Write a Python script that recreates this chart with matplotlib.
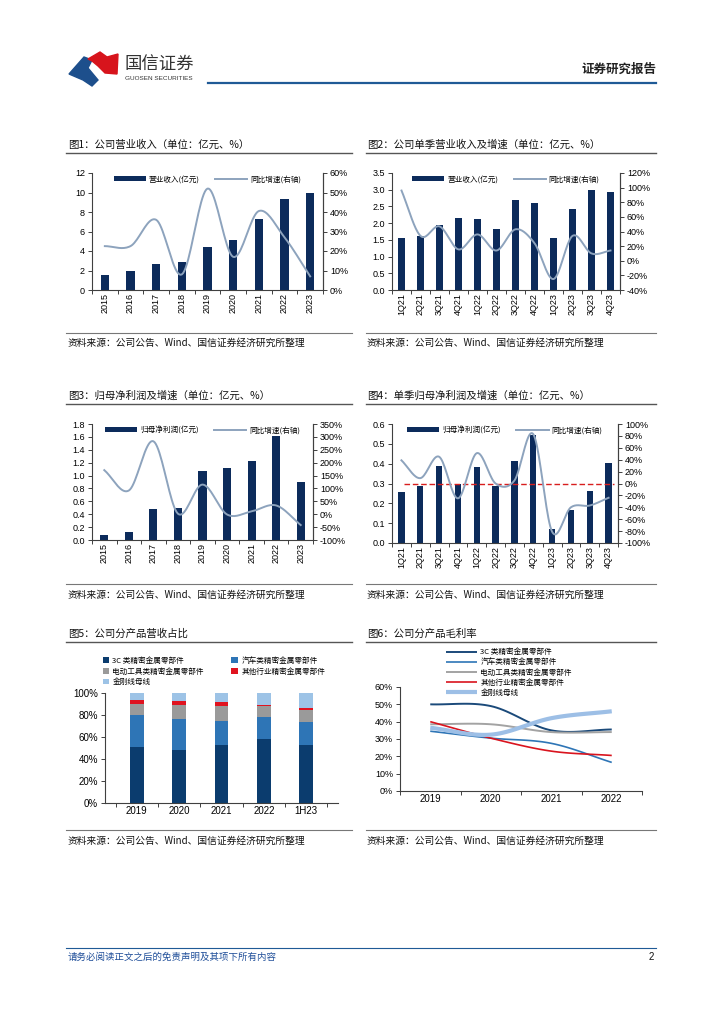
import numpy as np
import matplotlib
matplotlib.use("Agg")
import matplotlib.pyplot as plt
from matplotlib.patches import Polygon
from matplotlib.ticker import FuncFormatter, MultipleLocator, FixedLocator

plt.rcParams['font.family'] = ['Liberation Sans', 'Noto Sans CJK SC', 'DejaVu Sans']
CJK = ['Noto Sans CJK SC', 'DejaVu Sans']

# ---------------- data ----------------
years = ['2015', '2016', '2017', '2018', '2019', '2020', '2021', '2022', '2023']
revenue = [1.55, 1.95, 2.7, 2.9, 4.45, 5.15, 7.25, 9.3, 9.9]
revenue_yoy = [22.5, 22.5, 36, 8, 52, 17, 40.5, 27, 7]

quarters = ['1Q21', '2Q21', '3Q21', '4Q21', '1Q22', '2Q22', '3Q22', '4Q22', '1Q23', '2Q23', '3Q23', '4Q23']
q_revenue = [1.55, 1.62, 1.93, 2.15, 2.12, 1.82, 2.70, 2.60, 1.55, 2.43, 2.98, 2.93]
q_revenue_yoy = [96, 34, 47, 15.5, 36, 14, 43, 24, -25, 34, 10, 14]

profit = [0.07, 0.13, 0.48, 0.50, 1.07, 1.12, 1.22, 1.62, 0.90]
profit_yoy = [171, 92, 283, 2, 115, -1, 11, 34, -42]

q_profit = [0.255, 0.288, 0.387, 0.295, 0.383, 0.285, 0.413, 0.545, 0.072, 0.168, 0.262, 0.402]
q_profit_yoy = [39, 9, 45, -25, 51, 0, 5, 83, -81, -40, -37, -24]

mix_years = ['2019', '2020', '2021', '2022', '1H23']
products = ['3C 类精密金属零部件', '汽车类精密金属零部件', '电动工具类精密金属零部件',
            '其他行业精密金属零部件', '金刚线母线']
mix = {
    '3C 类精密金属零部件': [51, 48, 53, 58.5, 53],
    '汽车类精密金属零部件': [29, 28, 22, 19.5, 21],
    '电动工具类精密金属零部件': [10, 13, 13, 10, 11],
    '其他行业精密金属零部件': [4, 3.5, 3.5, 1.5, 1.5],
    '金刚线母线': [6, 7.5, 8.5, 10.5, 13.5],
}

gm_years = ['2019', '2020', '2021', '2022']
gm = {
    '3C 类精密金属零部件': [50, 49, 35, 35.5],
    '汽车类精密金属零部件': [34.5, 30.5, 27.5, 16.5],
    '电动工具类精密金属零部件': [38.5, 38.5, 34, 34],
    '其他行业精密金属零部件': [40, 30.5, 23, 20.5],
    '金刚线母线': [36.5, 32.5, 42, 46],
}

# ---------------- styles ----------------
NAVY = '#0c2b5b'
LINE = '#8da3bd'
mix_colors = ['#0b3c6e', '#2e75b6', '#9a9a9a', '#e0131f', '#9dc3e6']
gm_colors = ['#1b4a7a', '#2e75b6', '#a3a3a3', '#d9141e', '#9dbfe6']
gm_lw = [1.4, 1.2, 1.4, 1.2, 3.0]

W, H = 724, 1024
fig = plt.figure(figsize=(W / 100, H / 100), dpi=100)

bg = fig.add_axes([0, 0, 1, 1], zorder=-1)
bg.set_xlim(0, W)
bg.set_ylim(H, 0)
bg.axis('off')


def ax_px(l, t, r, b):
    return fig.add_axes([l / W, 1 - b / H, (r - l) / W, (b - t) / H])


def smooth(x, y, n=20):
    x = np.asarray(x, float)
    y = np.asarray(y, float)
    m = np.zeros_like(y)
    m[1:-1] = (y[2:] - y[:-2]) / 2.0
    m[0] = y[1] - y[0]
    m[-1] = y[-1] - y[-2]
    xs, ys = [], []
    for i in range(len(x) - 1):
        t = np.linspace(0, 1, n, endpoint=(i == len(x) - 2))
        h00 = 2 * t**3 - 3 * t**2 + 1
        h10 = t**3 - 2 * t**2 + t
        h01 = -2 * t**3 + 3 * t**2
        h11 = t**3 - t**2
        xs.append(x[i] + t * (x[i + 1] - x[i]))
        ys.append(h00 * y[i] + h10 * m[i] + h01 * y[i + 1] + h11 * m[i + 1])
    return np.concatenate(xs), np.concatenate(ys)


def style_axes(ax, right=None):
    ax.spines['top'].set_visible(False)
    for s in ['left', 'bottom', 'right']:
        ax.spines[s].set_color('#404040')
        ax.spines[s].set_linewidth(0.8)
    ax.tick_params(axis='both', labelsize=6.5, length=3, width=0.7, color='#404040', pad=2)
    if right is not None:
        right.spines['top'].set_visible(False)
        right.spines['left'].set_visible(False)
        right.spines['bottom'].set_visible(False)
        right.spines['right'].set_color('#404040')
        right.spines['right'].set_linewidth(0.8)
        right.tick_params(axis='y', labelsize=6.5, length=3, width=0.7, color='#404040', pad=2)


def combo(box, cats, bars, yoy, lmax, lstep, lfmt, rmin, rmax, rstep, bar_label, line_label,
          bar_w=0.33, hline=False):
    ax = ax_px(*box)
    x = np.arange(len(cats))
    ax.bar(x, bars, width=bar_w, color=NAVY, label=bar_label, zorder=2)
    ax.set_xlim(-0.5, len(cats) - 0.5)
    ax.set_ylim(0, lmax)
    ax.yaxis.set_major_locator(MultipleLocator(lstep))
    ax.yaxis.set_major_formatter(FuncFormatter(lambda v, p: lfmt.format(v)))
    ax.set_xticks(x)
    ax.set_xticklabels(cats, rotation=90)
    ax.xaxis.set_minor_locator(FixedLocator(np.arange(-0.5, len(cats), 1)))
    ax2 = ax.twinx()
    sx, sy = smooth(x, yoy)
    ax2.plot(sx, sy, color=LINE, lw=1.4, label=line_label, zorder=3)
    if hline:
        ax2.hlines(0, 0.15, len(cats) - 0.7, colors='#d81e1e', linestyles=(0, (4, 2)), lw=1.0)
    ax2.set_ylim(rmin, rmax)
    ax2.yaxis.set_major_locator(MultipleLocator(rstep))
    ax2.yaxis.set_major_formatter(FuncFormatter(lambda v, p: f'{v:.0f}%'))
    style_axes(ax, ax2)
    ax.tick_params(axis='x', which='major', length=0)
    ax.tick_params(axis='x', which='minor', length=3, width=0.7, color='#404040')
    h1, l1 = ax.get_legend_handles_labels()
    h2, l2 = ax2.get_legend_handles_labels()
    ax2.legend(h1 + h2, l1 + l2, loc='upper center', bbox_to_anchor=(0.5, 1.04), ncol=2,
               frameon=False, prop={'family': CJK, 'size': 5.5}, handlelength=4.2,
               handleheight=0.6, columnspacing=2.0, handletextpad=0.4)
    return ax, ax2


# ---------- header ----------
blue_poly = Polygon([(69, 74), (84, 57), (92, 60), (88, 68), (98, 80), (92, 86), (83, 80)],
                    closed=True, color='#1d4f8c')
red_poly = Polygon([(88, 59), (100, 52), (107, 57), (118, 54), (117, 74), (105, 73), (98, 66), (92, 61)],
                   closed=True, color='#d7141c')
bg.add_patch(blue_poly)
bg.add_patch(red_poly)
bg.text(124, 65, '国信证券', family=CJK, fontsize=12.5, color='#333333', va='center', ha='left')
bg.text(125, 78.5, 'GUOSEN SECURITIES', family=['Liberation Sans'], fontsize=4.6, color='#333333',
        va='center', ha='left')
bg.text(656, 69, '证券研究报告', family=CJK, fontsize=9, fontweight='bold', color='#222222',
        va='center', ha='right')
bg.plot([208, 656], [82.5, 82.5], color='#1f5a96', lw=1.6)

# ---------- titles / sources ----------
titles = [
    (68, 145, '图1：公司营业收入（单位：亿元、%）', 66, 352, 153),
    (367, 145, '图2：公司单季营业收入及增速（单位：亿元、%）', 366, 656, 153),
    (68, 396, '图3：归母净利润及增速（单位：亿元、%）', 66, 352, 404),
    (367, 396, '图4：单季归母净利润及增速（单位：亿元、%）', 366, 656, 404),
    (68, 634, '图5：公司分产品营收占比', 66, 352, 642),
    (367, 634, '图6：公司分产品毛利率', 366, 656, 642),
]
for tx, ty, txt, x0, x1, ly in titles:
    bg.text(tx, ty, txt, family=CJK, fontsize=7.5, color='#111111', va='center', ha='left')
    bg.plot([x0, x1], [ly, ly], color='#555555', lw=1.0)

sources = [(68, 343, 66, 352, 333), (367, 343, 366, 656, 333),
           (68, 595, 66, 352, 584), (367, 595, 366, 656, 584),
           (68, 841, 66, 352, 830), (367, 841, 366, 656, 830)]
for tx, ty, x0, x1, ly in sources:
    bg.plot([x0, x1], [ly, ly], color='#777777', lw=0.8)
    bg.text(tx, ty, '资料来源：公司公告、Wind、国信证券经济研究所整理', family=CJK, fontsize=7,
            color='#111111', va='center', ha='left')

# ---------- footer ----------
bg.plot([66, 656], [948, 948], color='#1f5a96', lw=0.8)
bg.text(68, 957, '请务必阅读正文之后的免责声明及其项下所有内容', family=CJK, fontsize=6.8,
        color='#1f4e99', style='italic', va='center', ha='left')
bg.text(654, 957, '2', family=['Liberation Sans'], fontsize=7, color='#111111', va='center', ha='right')

# ---------- charts 1-4 ----------
combo((92, 173, 323, 290), years, revenue, revenue_yoy, 12, 2, '{:.0f}', 0, 60, 10,
      '营业收入(亿元)', '同比增速(右轴)', bar_w=0.32)
combo((392, 173, 620, 290), quarters, q_revenue, q_revenue_yoy, 3.5, 0.5, '{:.1f}', -40, 120, 20,
      '营业收入(亿元)', '同比增速(右轴)', bar_w=0.36)
combo((92, 424, 313, 540), years, profit, profit_yoy, 1.8, 0.2, '{:.1f}', -100, 350, 50,
      '归母净利润(亿元)', '同比增速(右轴)', bar_w=0.33)
combo((392, 424, 618, 543), quarters, q_profit, q_profit_yoy, 0.6, 0.1, '{:.1f}', -100, 100, 20,
      '归母净利润(亿元)', '同比增速(右轴)', bar_w=0.34, hline=True)

# ---------- chart 5 ----------
ax5 = ax_px(105, 693, 338, 803)
x5 = np.arange(len(mix_years))
bottom = np.zeros(len(mix_years))
for name, c in zip(products, mix_colors):
    vals = np.array(mix[name])
    ax5.bar(x5, vals, bottom=bottom, width=0.33, color=c, label=name, zorder=2)
    bottom += vals
ax5.set_xlim(-0.75, len(mix_years) - 0.25)
ax5.set_ylim(0, 100)
ax5.yaxis.set_major_locator(MultipleLocator(20))
ax5.yaxis.set_major_formatter(FuncFormatter(lambda v, p: f'{v:.0f}%'))
ax5.set_xticks(x5)
ax5.set_xticklabels(mix_years)
ax5.xaxis.set_minor_locator(FixedLocator(np.arange(-0.5, len(mix_years) + 0.5, 1)))
style_axes(ax5)
ax5.spines['right'].set_visible(False)
ax5.tick_params(axis='x', which='major', length=0, labelsize=7)
ax5.tick_params(axis='y', labelsize=7)
ax5.tick_params(axis='x', which='minor', length=3, width=0.7, color='#404040')
h5, l5 = ax5.get_legend_handles_labels()
order = [0, 2, 4, 1, 3]  # row-wise reading order in a 2-column legend
ax5.legend([h5[i] for i in order], [l5[i] for i in order], loc='lower left',
           bbox_to_anchor=(-0.04, 1.0), ncol=2, frameon=False,
           prop={'family': CJK, 'size': 5.5}, handlelength=0.8, handleheight=0.8,
           columnspacing=3.6, handletextpad=0.5, labelspacing=0.35)

# ---------- chart 6 ----------
ax6 = ax_px(400, 687, 642, 791)
x6 = np.arange(len(gm_years))
for name, c, lw in zip(products, gm_colors, gm_lw):
    sx, sy = smooth(x6, gm[name])
    ax6.plot(sx, sy, color=c, lw=lw, label=name, solid_capstyle='butt')
ax6.set_xlim(-0.5, len(gm_years) - 0.5)
ax6.set_ylim(0, 60)
ax6.yaxis.set_major_locator(MultipleLocator(10))
ax6.yaxis.set_major_formatter(FuncFormatter(lambda v, p: f'{v:.0f}%'))
ax6.set_xticks(x6)
ax6.set_xticklabels(gm_years)
ax6.xaxis.set_minor_locator(FixedLocator(np.arange(-0.5, len(gm_years) + 0.5, 1)))
style_axes(ax6)
ax6.spines['right'].set_visible(False)
ax6.tick_params(axis='x', which='major', length=0, labelsize=7)
ax6.tick_params(axis='y', labelsize=6.5)
ax6.tick_params(axis='x', which='minor', length=3, width=0.7, color='#404040')
ax6.legend(loc='lower center', bbox_to_anchor=(0.45, 0.84), ncol=1, frameon=False,
           prop={'family': CJK, 'size': 5.5}, handlelength=4.0, handletextpad=0.5,
           labelspacing=0.28)

fig.savefig('out.png', dpi=100)
